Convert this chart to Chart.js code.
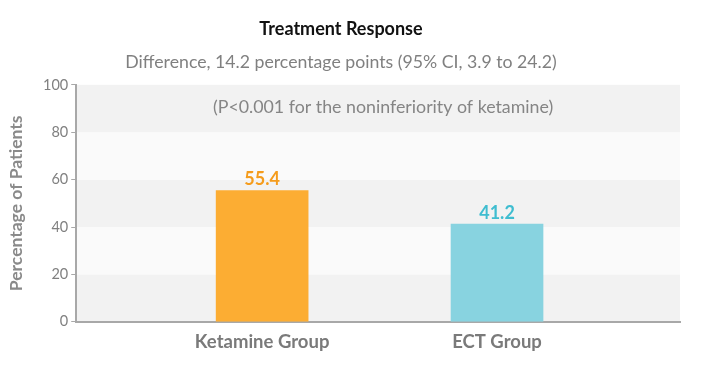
<!DOCTYPE html>
<html>
<head>
<meta charset="utf-8">
<script src="https://cdn.jsdelivr.net/npm/chart.js@4/dist/chart.umd.min.js"></script>
<style>
  html, body { margin: 0; padding: 0; background: #fff; }
  #wrap { width: 701px; height: 381px; position: relative; }
</style>
</head>
<body>
<div id="wrap"><canvas id="chart"></canvas></div>
<script>
const groups = ["Ketamine Group", "ECT Group"];
const responseRates = [55.4, 41.2];
const groupPositions = [1, 2];
const barColors = ["#fcad33", "#88d3e0"];
const labelColors = ["#f59c1c", "#3fbdd0"];
const yTicks = [0, 20, 40, 60, 80, 100];
const titleText = "Treatment Response";
const subtitleText = "Difference, 14.2 percentage points (95% CI, 3.9 to 24.2)";
const noteText = "(P<0.001 for the noninferiority of ketamine)";

const FONT = "Lato, 'Open Sans', sans-serif";

// alternating horizontal bands behind the bars
const bandsPlugin = {
  id: "bands",
  beforeDraw(chart) {
    const { ctx, chartArea, scales } = chart;
    const y = scales.y;
    ctx.save();
    for (let i = 0; i < yTicks.length - 1; i++) {
      const top = y.getPixelForValue(yTicks[i + 1]);
      const bottom = y.getPixelForValue(yTicks[i]);
      ctx.fillStyle = i % 2 === 0 ? "#f2f2f2" : "#fafafa";
      ctx.fillRect(chartArea.left, top, chartArea.right - chartArea.left, bottom - top);
    }
    ctx.restore();
  },
};

const labelsPlugin = {
  id: "valueLabels",
  afterDatasetsDraw(chart) {
    const { ctx, chartArea } = chart;
    ctx.save();
    ctx.font = "bold 18px " + FONT;
    ctx.textAlign = "center";
    ctx.textBaseline = "bottom";
    chart.getDatasetMeta(0).data.forEach((bar, i) => {
      ctx.fillStyle = labelColors[i];
      ctx.fillText(responseRates[i].toFixed(1), bar.x, bar.y - 2);
    });
    ctx.font = "17.8px " + FONT;
    ctx.fillStyle = "#858585";
    ctx.textBaseline = "middle";
    ctx.fillText(noteText, (chartArea.left + chartArea.right) / 2 + 5, chartArea.top + 22);
    ctx.restore();
  },
};

new Chart(document.getElementById("chart"), {
  type: "bar",
  data: {
    datasets: [
      {
        data: groupPositions.map((x, i) => ({ x, y: responseRates[i] })),
        backgroundColor: barColors,
        barThickness: 92,
      },
    ],
  },
  options: {
    responsive: true,
    maintainAspectRatio: false,
    animation: false,
    layout: { padding: { left: 2, right: 21, bottom: 27, top: 10 } },
    plugins: {
      legend: { display: false },
      tooltip: { enabled: false },
      title: {
        display: true,
        text: titleText,
        color: "#111",
        font: { family: FONT, size: 18, weight: "bold" },
        padding: { top: 8, bottom: 12 },
      },
      subtitle: {
        display: true,
        text: subtitleText,
        color: "#808080",
        font: { family: FONT, size: 17.7 },
        padding: { bottom: 12 },
      },
    },
    scales: {
      x: {
        type: "linear",
        offset: false,
        min: 0.2085,
        max: 2.779,
        afterBuildTicks(scale) {
          scale.ticks = groupPositions.map((v) => ({ value: v }));
        },
        ticks: {
          callback: (v) => groups[groupPositions.indexOf(v)] || "",
          color: "#7a7a7a",
          font: { family: FONT, size: 18.5, weight: "bold" },
          padding: 1,
          autoSkip: false,
          maxRotation: 0,
        },
        grid: { display: false },
        border: { display: true, color: "#a8a8a8", width: 2 },
      },
      y: {
        min: 0,
        max: 100,
        afterBuildTicks(scale) {
          scale.ticks = yTicks.map((v) => ({ value: v }));
        },
        ticks: {
          color: "#808080",
          font: { family: FONT, size: 14.5 },
          padding: 3,
        },
        grid: { drawOnChartArea: false, drawTicks: true, tickLength: 5, color: "#a8a8a8" },
        border: { display: true, color: "#a8a8a8", width: 2 },
        title: {
          display: true,
          text: "Percentage of Patients",
          color: "#8a8a8a",
          font: { family: FONT, size: 17.5, weight: "bold" },
          padding: { bottom: 13 },
        },
      },
    },
  },
  plugins: [bandsPlugin, labelsPlugin],
});
</script>
</body>
</html>
